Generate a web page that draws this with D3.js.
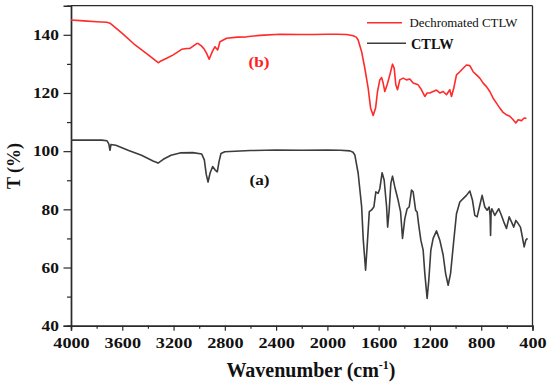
<!DOCTYPE html>
<html><head><meta charset="utf-8">
<script src="https://cdn.jsdelivr.net/npm/d3@7/dist/d3.min.js"></script>
<style>
html,body{margin:0;padding:0;background:#fff;}
svg{display:block;}
text{font-family:"Liberation Serif","Times New Roman",serif;}
</style></head>
<body>
<svg id="chart" width="550" height="384"></svg>
<script>
// Wavenumbers (cm^-1) and transmittance values
const ctlwWavenumber = [4000,3760,3720,3705,3696,3688,3650,3550,3450,3360,3321,3280,3220,3150,3050,2980,2960,2945,2931,2915,2895,2875,2859,2845,2830,2800,2600,2400,2200,2000,1900,1824,1800,1786,1760,1733,1720,1702,1690,1673,1655,1637,1622,1604,1591,1573,1557,1538,1530,1518,1505,1492,1474,1448,1429,1414,1396,1378,1362,1344,1331,1312,1300,1289,1271,1253,1240,1222,1209,1193,1175,1149,1123,1097,1078,1058,1039,1019,993,967,941,915,889,868,850,832,811,793,772,754,738,731,727,723,717,694,663,642,624,603,582,564,546,530,512,494,479,465,452,439];
const ctlwT = [103.8,103.8,103.6,102.5,100.3,102.3,102.0,100.2,98.6,96.6,95.9,97.2,98.6,99.4,99.5,99.0,97.0,92.0,89.4,92.5,94.7,93.5,92.9,96.5,99.2,99.8,100.2,100.4,100.3,100.4,100.3,100.1,99.6,98.7,92.4,81.0,69.5,59.1,67.2,79.2,79.8,80.9,86.0,85.5,87.1,92.6,90.0,80.8,73.9,79.7,88.9,91.4,87.7,83.1,79.1,70.0,76.8,80.2,80.8,86.6,86.0,79.7,79.1,75.1,69.4,66.0,58.0,49.4,55.6,66.0,70.0,72.6,69.4,64.3,58.0,53.9,58.0,67.1,78.5,82.5,83.7,84.8,86.3,83.1,77.9,77.4,81.4,84.8,80.8,79.7,80.8,78.0,71.0,79.0,80.2,77.9,80.2,77.9,75.7,73.4,77.4,75.7,73.9,76.2,75.1,73.9,70.5,67.1,69.4,70.0];

const dechromWavenumber = [4000,3900,3800,3720,3696,3600,3500,3400,3320,3306,3250,3202,3137,3098,3072,3020,3007,2981,2960,2942,2922,2898,2877,2856,2838,2786,2700,2630,2526,2370,2200,2111,2000,1928,1850,1799,1775,1760,1733,1708,1682,1663,1643,1624,1609,1591,1577,1565,1552,1534,1513,1492,1479,1466,1453,1435,1409,1383,1357,1331,1292,1266,1240,1222,1201,1175,1149,1123,1097,1071,1045,1032,1014,993,967,941,915,889,863,837,811,785,759,733,707,681,655,629,603,577,551,530,512,486,465,447];
const dechromT = [145.1,144.8,144.5,144.3,144.0,140.5,136.5,133.2,130.4,130.8,132.0,133.1,135.0,135.3,135.3,137.0,137.0,136.1,135.0,133.6,131.6,134.2,135.9,134.8,137.6,138.8,139.2,139.3,139.8,140.2,140.1,140.1,140.2,140.2,140.1,139.7,139.2,138.2,134.2,128.5,121.7,114.8,112.3,114.8,120.5,124.5,125.3,123.4,120.5,122.8,126.2,129.9,128.5,122.8,121.1,124.5,125.1,124.5,124.8,123.4,122.8,121.1,118.8,120.0,120.0,120.5,121.0,120.0,120.5,119.4,121.1,118.8,121.7,126.2,127.3,128.5,129.6,129.4,127.3,126.2,125.1,123.4,122.2,120.5,118.2,116.5,114.8,113.3,112.5,112.0,110.8,109.7,110.8,110.5,111.4,111.2];

const xMajorTicks = [4000,3600,3200,2800,2400,2000,1600,1200,800,400];
const xMinorTicks = [3800,3400,3000,2600,2200,1800,1400,1000,600];
const yMajorTicks = [40,60,80,100,120,140];
const yMinorTicks = [50,70,90,110,130];
const seriesNames = ["Dechromated CTLW","CTLW"];
const curveLabels = ["(b)","(a)"];

const svg = d3.select("#chart");
const L = 71, R = 532.5, T = 5.7, B = 325.7;
const x = d3.scaleLinear().domain([4000,400]).range([L,R]);
const y = d3.scaleLinear().domain([40,150]).range([B,T]);
const axisColor = "#2a2a2a";

// frame (top & right)
svg.append("line").attr("x1",L).attr("x2",R).attr("y1",T).attr("y2",T).attr("stroke",axisColor).attr("stroke-width",1.3);
svg.append("line").attr("x1",R).attr("x2",R).attr("y1",T).attr("y2",B).attr("stroke",axisColor).attr("stroke-width",1.3);

function styleAxis(g){
  g.select(".domain").attr("stroke",axisColor).attr("stroke-width",1.4);
  g.selectAll(".tick line").attr("stroke",axisColor).attr("stroke-width",1.2);
}

// x minor
const gxm = svg.append("g").attr("transform",`translate(0,${B})`)
  .call(d3.axisBottom(x).tickValues(xMinorTicks).tickSize(3).tickFormat(""));
styleAxis(gxm);
// x major
const gx = svg.append("g").attr("transform",`translate(0,${B})`)
  .call(d3.axisBottom(x).tickValues(xMajorTicks).tickSize(5).tickPadding(7).tickFormat(d3.format("d")));
styleAxis(gx);
gx.selectAll(".tick text").attr("fill","#111").attr("font-size",15).attr("font-weight","bold")
  .attr("textLength",d=>String(d).length*9.1).attr("lengthAdjust","spacingAndGlyphs");

// y minor
const gym = svg.append("g").attr("transform",`translate(${L},0)`)
  .call(d3.axisLeft(y).tickValues(yMinorTicks).tickSize(4).tickFormat(""));
styleAxis(gym);
const gy = svg.append("g").attr("transform",`translate(${L},0)`)
  .call(d3.axisLeft(y).tickValues(yMajorTicks).tickSize(7.5).tickPadding(4.5).tickFormat(d3.format("d")));
styleAxis(gy);
gy.selectAll(".tick text").attr("fill","#111").attr("font-size",15).attr("font-weight","bold")
  .attr("textLength",d=>String(d).length*8.7).attr("lengthAdjust","spacingAndGlyphs");

// titles
const xt = svg.append("text").attr("x",311).attr("y",377).attr("text-anchor","middle")
  .attr("font-size",20).attr("font-weight","bold").attr("fill","#111");
xt.append("tspan").text("Wavenumber (cm");
xt.append("tspan").attr("font-size",12).attr("dy",-8).text("-1");
xt.append("tspan").attr("dy",8).text(")");

svg.append("text").attr("transform","translate(20,166) rotate(-90)").attr("text-anchor","middle")
  .attr("font-size",18).attr("font-weight","bold").attr("fill","#111").text("T (%)");

// curves
const line = d3.line().x(d=>x(d[0])).y(d=>y(d[1]));
const dechrom = dechromWavenumber.map((w,i)=>[w,dechromT[i]]);
const ctlw = ctlwWavenumber.map((w,i)=>[w,ctlwT[i]]);
const colors = ["#ff2b2b","#3c3c3c"];
svg.append("path").datum(ctlw).attr("d",line).attr("fill","none").attr("stroke",colors[1]).attr("stroke-width",1.6).attr("stroke-linejoin","round");
svg.append("path").datum(dechrom).attr("d",line).attr("fill","none").attr("stroke",colors[0]).attr("stroke-width",1.6).attr("stroke-linejoin","round");

// legend
svg.append("line").attr("x1",367).attr("x2",402).attr("y1",22.7).attr("y2",22.7).attr("stroke",colors[0]).attr("stroke-width",1.6);
svg.append("text").attr("x",409.5).attr("y",26.5).attr("font-size",12.5).attr("fill","#111")
  .attr("textLength",108).attr("lengthAdjust","spacingAndGlyphs").text(seriesNames[0]);
svg.append("line").attr("x1",367).attr("x2",406).attr("y1",43.3).attr("y2",43.3).attr("stroke",colors[1]).attr("stroke-width",1.6);
svg.append("text").attr("x",411).attr("y",49.3).attr("font-size",14).attr("font-weight","bold").attr("fill","#111")
  .attr("textLength",42.5).attr("lengthAdjust","spacingAndGlyphs").text(seriesNames[1]);

// curve labels
svg.append("text").attr("x",248.5).attr("y",66.5).attr("font-size",15).attr("font-weight","bold").attr("fill","#ff2020")
  .attr("textLength",21).attr("lengthAdjust","spacingAndGlyphs").text(curveLabels[0]);
svg.append("text").attr("x",249.5).attr("y",185).attr("font-size",15).attr("font-weight","bold").attr("fill","#111")
  .attr("textLength",20).attr("lengthAdjust","spacingAndGlyphs").text(curveLabels[1]);
</script>
</body></html>
